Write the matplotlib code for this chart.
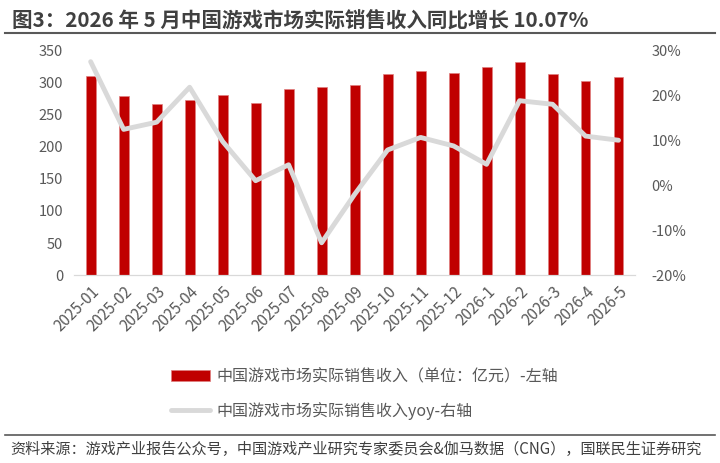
import matplotlib
matplotlib.use('Agg')
import matplotlib.pyplot as plt
from matplotlib.lines import Line2D
from matplotlib.ticker import FuncFormatter

plt.rcParams['font.family'] = ['Noto Sans CJK SC', 'DejaVu Sans']

# 数据
months = ['2025-01', '2025-02', '2025-03', '2025-04', '2025-05', '2025-06',
          '2025-07', '2025-08', '2025-09', '2025-10', '2025-11', '2025-12',
          '2026-1', '2026-2', '2026-3', '2026-4', '2026-5']
revenue = [311, 279, 267, 273, 281, 269, 291, 293, 297, 313.6, 319, 315,
           324.5, 332, 314.5, 303.6, 309]
yoy = [27.6, 12.5, 14.1, 21.9, 9.8, 1.05, 4.6, -12.8, -2.0, 7.9, 10.7, 8.8,
       4.7, 18.9, 18.1, 11.0, 10.07]

bar_color = '#C00000'
line_color = '#D9D9D9'
text_color = '#595959'

fig = plt.figure(figsize=(7.2, 4.63), dpi=100)
ax1 = fig.add_axes([0.103, 0.406, 0.779, 0.484])

x = list(range(len(months)))
bars = ax1.bar(x, revenue, width=0.3, color=bar_color, edgecolor='#E08080',
               linewidth=0.5, label='中国游戏市场实际销售收入（单位：亿元）-左轴', zorder=2)
ax1.set_xlim(-0.5, len(months) - 0.5)
ax1.set_ylim(0, 350)
ax1.set_yticks(range(0, 351, 50))
ax1.set_xticks(x)
ax1.set_xticklabels(months, rotation=45, ha='right', rotation_mode='anchor')

ax2 = ax1.twinx()
line, = ax2.plot(x, yoy, color=line_color, linewidth=3.5, solid_capstyle='round',
                 label='中国游戏市场实际销售收入yoy-右轴', zorder=3)
ax2.set_ylim(-20, 30)
ax2.set_yticks(range(-20, 31, 10))
ax2.yaxis.set_major_formatter(FuncFormatter(lambda v, p: f'{v:.0f}%'))

for ax in (ax1, ax2):
    for s in ['top', 'left', 'right']:
        ax.spines[s].set_visible(False)
    ax.spines['bottom'].set_color('#D9D9D9')
    ax.tick_params(length=0, labelsize=10.5, labelcolor=text_color)
ax1.tick_params(axis='x', pad=6, labelsize=11)
ax1.tick_params(axis='y', pad=8)
ax2.tick_params(axis='y', pad=12)

# 图例
fig.legend(handles=[bars, line], loc='upper left', bbox_to_anchor=(0.218, 0.236),
           frameon=False, fontsize=11.5, handlelength=2.4, handletextpad=0.4,
           labelspacing=1.05, labelcolor=text_color)

# 标题与来源
fig.text(0.016, 0.957, '图3：2026 年 5 月中国游戏市场实际销售收入同比增长 10.07%',
         fontsize=14.8, fontweight='bold', color='#404040', va='center')
fig.add_artist(Line2D([0.007, 0.993], [0.928, 0.928], color='#595959', linewidth=1.5))
fig.add_artist(Line2D([0.007, 0.993], [0.060, 0.060], color='#595959', linewidth=1.2))
fig.text(0.014, 0.030, '资料来源：游戏产业报告公众号，中国游戏产业研究专家委员会&伽马数据（CNG），国联民生证券研究',
         fontsize=10.9, color='#404040', va='center')

plt.savefig('out.png', dpi=100)
